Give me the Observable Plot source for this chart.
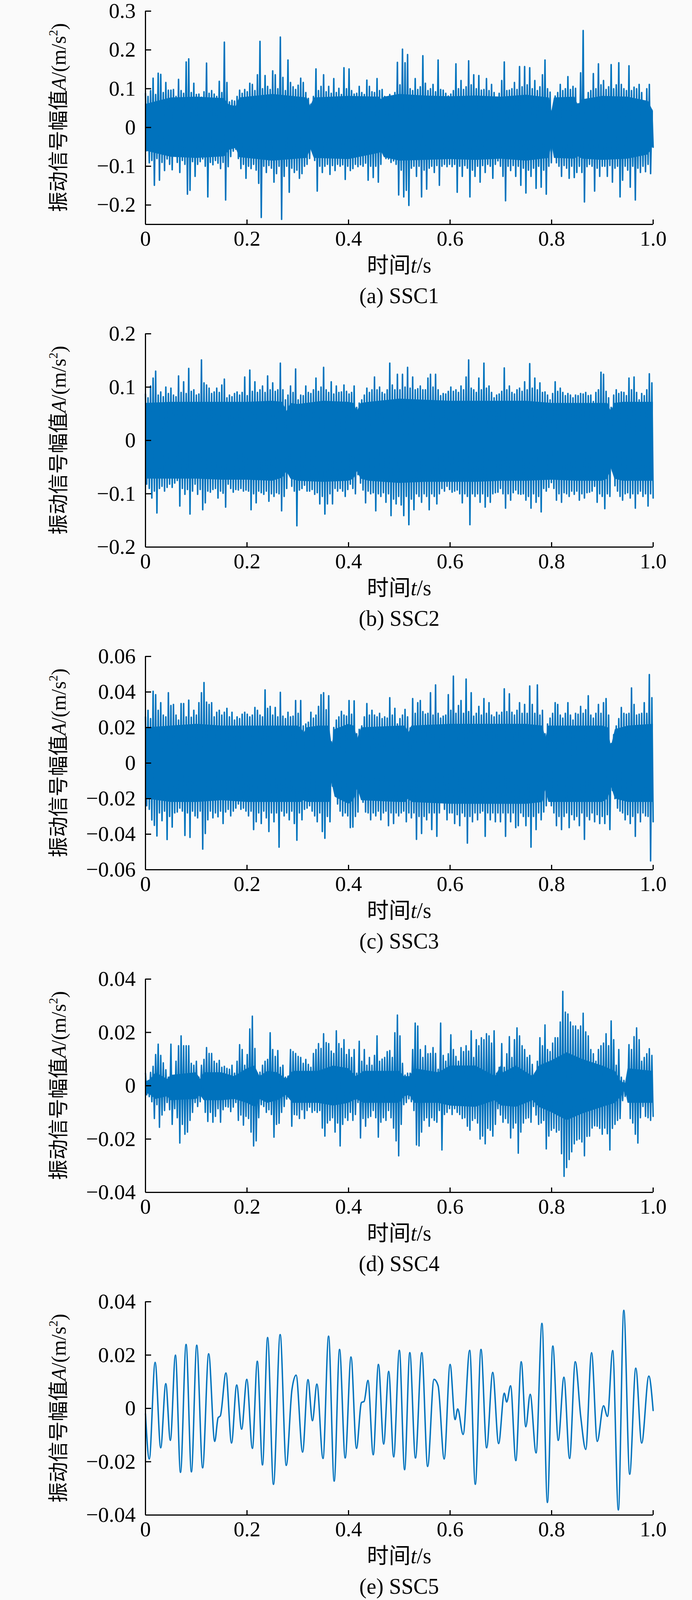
<!DOCTYPE html>
<html>
<head>
<meta charset="utf-8">
<script src="https://cdn.jsdelivr.net/npm/d3@7"></script>
<script src="https://cdn.jsdelivr.net/npm/@observablehq/plot@0.6"></script>
<style>
  html, body { margin: 0; padding: 0; background: #fafafa; }
  #root { width: 1772px; }
  #root svg { display: block; }
</style>
</head>
<body>
<div id="root"></div>
<script>
// ---------- shared axis data ----------
const xTicks = [0, 0.2, 0.4, 0.6, 0.8, 1.0];
const xTickLabels = ["0", "0.2", "0.4", "0.6", "0.8", "1.0"];
const captions = ["(a) SSC1", "(b) SSC2", "(c) SSC3", "(d) SSC4", "(e) SSC5"];

const ssc1Domain = [-0.25, 0.3];
const ssc1Ticks = [-0.2, -0.1, 0, 0.1, 0.2, 0.3];
const ssc1TickLabels = ["−0.2", "−0.1", "0", "0.1", "0.2", "0.3"];
const ssc2Domain = [-0.2, 0.2];
const ssc2Ticks = [-0.2, -0.1, 0, 0.1, 0.2];
const ssc2TickLabels = ["−0.2", "−0.1", "0", "0.1", "0.2"];
const ssc3Domain = [-0.06, 0.06];
const ssc3Ticks = [-0.06, -0.04, -0.02, 0, 0.02, 0.04, 0.06];
const ssc3TickLabels = ["−0.06", "−0.04", "−0.02", "0", "0.02", "0.04", "0.06"];
const ssc4Domain = [-0.04, 0.04];
const ssc4Ticks = [-0.04, -0.02, 0, 0.02, 0.04];
const ssc4TickLabels = ["−0.04", "−0.02", "0", "0.02", "0.04"];
const ssc5Domain = [-0.04, 0.04];
const ssc5Ticks = [-0.04, -0.02, 0, 0.02, 0.04];
const ssc5TickLabels = ["−0.04", "−0.02", "0", "0.02", "0.04"];

// ---------- signal swings (unit 10^-3 m/s^2): successive upper / lower extremes over 0..1 s ----------
const ssc1UpperMilli = [
  88, 80, 95, 127, 85, 140, 137, 90, 116, 96,
  96, 98, 80, 124, 95, 88, 169, 177, 90, 114,
  85, 86, 78, 92, 166, 88, 95, 86, 80, 119,
  90, 220, 116, 66, 70, 68, 80, 96, 88, 98,
  92, 114, 111, 95, 136, 222, 100, 134, 106, 98,
  146, 136, 100, 233, 129, 95, 174, 116, 105, 98,
  109, 127, 116, 90, 75, 60, 80, 151, 95, 106,
  136, 92, 106, 88, 126, 90, 101, 85, 154, 100,
  151, 95, 86, 88, 106, 90, 85, 122, 106, 92,
  90, 126, 95, 98, 80, 76, 85, 81, 90, 168,
  110, 202, 167, 188, 100, 95, 126, 98, 105, 185,
  114, 95, 100, 111, 92, 174, 98, 96, 88, 81,
  86, 95, 164, 100, 121, 98, 105, 172, 110, 136,
  100, 134, 96, 98, 126, 95, 111, 90, 76, 88,
  121, 169, 95, 96, 100, 116, 98, 157, 105, 157,
  110, 154, 100, 121, 95, 105, 136, 174, 100, 91,
  45, 81, 90, 111, 95, 100, 131, 98, 106, 101,
  61, 141, 250, 66, 90, 95, 139, 100, 164, 110,
  121, 98, 105, 162, 100, 110, 167, 111, 100, 95,
  159, 95, 104, 100, 111, 90, 66, 100, 111, 45
];
const ssc1LowerMilli = [
  -60, -91, -85, -149, -80, -136, -90, -111, -81, -95,
  -109, -71, -90, -116, -85, -95, -172, -162, -88, -126,
  -95, -88, -81, -100, -179, -90, -96, -85, -92, -106,
  -90, -187, -101, -75, -61, -56, -80, -106, -95, -131,
  -100, -106, -95, -110, -144, -232, -100, -116, -98, -105,
  -141, -119, -100, -237, -126, -100, -167, -105, -116, -110,
  -131, -119, -100, -95, -80, -58, -85, -164, -100, -116,
  -100, -95, -121, -98, -111, -95, -100, -96, -134, -100,
  -111, -106, -95, -101, -96, -100, -92, -136, -100, -129,
  -100, -141, -95, -66, -80, -81, -90, -86, -95, -174,
  -110, -179, -162, -201, -105, -100, -126, -100, -179, -110,
  -159, -105, -100, -116, -98, -149, -100, -95, -101, -95,
  -101, -95, -167, -100, -126, -98, -105, -179, -110, -126,
  -100, -141, -98, -116, -95, -100, -131, -95, -86, -100,
  -126, -189, -100, -111, -98, -126, -100, -149, -105, -169,
  -110, -126, -105, -157, -100, -154, -110, -172, -100, -91,
  -45, -91, -100, -126, -98, -105, -131, -100, -129, -116,
  -100, -116, -192, -101, -95, -100, -164, -105, -126, -100,
  -100, -126, -98, -141, -105, -100, -179, -136, -100, -110,
  -154, -100, -187, -105, -116, -100, -114, -95, -119, -51
];
// dense core band of SSC1 (time s, unit 10^-3 m/s^2)
const ssc1CoreTime = [0, 0.05, 0.10, 0.155, 0.165, 0.178, 0.185, 0.25, 0.318, 0.325, 0.332, 0.40, 0.46, 0.465, 0.47, 0.50, 0.55, 0.60, 0.65, 0.70, 0.75, 0.795, 0.80, 0.805, 0.845, 0.852, 0.86, 0.90, 0.95, 0.99, 1.0];
const ssc1CoreUpper = [60, 77, 79, 75, 58, 55, 77, 86, 77, 55, 77, 81, 79, 72, 79, 86, 82, 80, 82, 79, 84, 77, 42, 77, 79, 58, 72, 81, 79, 68, 42];
const ssc1CoreLower = [-60, -76, -79, -75, -58, -53, -77, -86, -79, -55, -79, -82, -66, -63, -77, -86, -84, -82, -84, -81, -86, -79, -42, -79, -81, -75, -81, -84, -81, -70, -48];

const ssc2UpperMilli = [
  87, 80, 102, 117, 130, 85, 91, 82, 100, 88,
  98, 85, 82, 121, 90, 110, 88, 135, 92, 95,
  85, 87, 151, 108, 104, 98, 88, 91, 98, 90,
  104, 115, 80, 85, 82, 88, 91, 85, 90, 119,
  84, 132, 92, 110, 90, 95, 102, 90, 121, 95,
  108, 92, 95, 145, 95, 76, 85, 102, 90, 134,
  76, 85, 84, 102, 90, 88, 95, 117, 92, 100,
  137, 95, 90, 110, 87, 102, 90, 91, 104, 92,
  87, 90, 102, 62, 70, 76, 85, 98, 90, 95,
  119, 95, 100, 90, 87, 95, 145, 104, 95, 124,
  95, 124, 100, 137, 98, 119, 95, 97, 102, 95,
  95, 117, 124, 100, 124, 95, 84, 88, 87, 92,
  100, 92, 95, 90, 102, 95, 119, 151, 98, 95,
  90, 117, 95, 145, 98, 102, 90, 80, 85, 87,
  92, 136, 95, 102, 90, 87, 95, 98, 92, 110,
  95, 144, 98, 117, 95, 108, 90, 91, 85, 76,
  88, 110, 92, 98, 90, 84, 88, 85, 80, 85,
  84, 88, 87, 90, 84, 85, 73, 90, 95, 128,
  124, 92, 80, 62, 85, 95, 88, 91, 90, 84,
  117, 95, 119, 90, 76, 88, 84, 95, 125, 108
];
const ssc2LowerMilli = [
  -82, -90, -108, -95, -136, -90, -86, -95, -88, -82,
  -88, -80, -75, -123, -90, -101, -92, -138, -95, -82,
  -101, -92, -130, -117, -95, -97, -92, -90, -108, -95,
  -99, -125, -82, -90, -97, -92, -93, -90, -95, -93,
  -95, -130, -100, -117, -95, -98, -101, -95, -114, -100,
  -105, -98, -100, -132, -105, -90, -64, -86, -95, -160,
  -93, -90, -84, -95, -95, -92, -101, -98, -119, -105,
  -138, -119, -100, -119, -90, -95, -90, -95, -105, -92,
  -82, -90, -100, -64, -80, -93, -117, -95, -100, -98,
  -132, -100, -105, -98, -116, -100, -141, -110, -119, -105,
  -121, -141, -105, -158, -110, -130, -100, -105, -116, -100,
  -105, -130, -100, -105, -119, -100, -90, -95, -86, -92,
  -97, -95, -93, -100, -117, -100, -105, -158, -100, -105,
  -100, -116, -100, -125, -105, -116, -100, -98, -97, -90,
  -100, -127, -100, -112, -98, -93, -100, -101, -100, -112,
  -105, -127, -100, -116, -105, -134, -90, -95, -88, -79,
  -90, -112, -100, -116, -98, -100, -105, -95, -101, -95,
  -112, -100, -108, -98, -97, -95, -86, -116, -100, -105,
  -128, -100, -105, -57, -85, -95, -105, -112, -100, -98,
  -108, -100, -127, -100, -95, -105, -100, -123, -100, -108
];
const ssc2CoreTime = [0, 0.05, 0.10, 0.15, 0.20, 0.25, 0.27, 0.278, 0.286, 0.30, 0.35, 0.40, 0.41, 0.417, 0.424, 0.44, 0.50, 0.55, 0.60, 0.65, 0.70, 0.75, 0.80, 0.85, 0.90, 0.91, 0.917, 0.924, 0.94, 1.0];
const ssc2CoreUpper = [70, 72, 72, 72, 72, 74, 72, 55, 70, 68, 74, 72, 70, 55, 70, 72, 78, 76, 74, 74, 74, 74, 70, 70, 70, 70, 55, 70, 72, 72];
const ssc2CoreLower = [-72, -72, -72, -74, -74, -76, -70, -58, -72, -76, -78, -76, -72, -58, -72, -76, -80, -78, -78, -78, -76, -76, -74, -76, -76, -72, -52, -72, -76, -76];

const ssc3UpperMilli = [
  26, 29.7, 25, 40.4, 38.5, 29.7, 34, 27, 26, 39.6,
  32.4, 33, 27, 24.2, 33.5, 33.5, 26, 35.4, 25.8, 29.7,
  27, 34, 39.6, 45.3, 34.3, 33, 34, 26, 28.6, 29.7,
  27, 28.6, 30.8, 26, 28.6, 24.2, 26, 25, 27.5, 28.6,
  27.5, 26, 27, 31.3, 29.7, 27, 26, 41.2, 30.8, 31.9,
  27, 31.3, 26, 39.8, 26.4, 25, 28.6, 26, 26.4, 35.2,
  28, 35.2, 20.9, 22, 23, 28.6, 25.3, 27, 31.9, 38.5,
  39.6, 30, 37.9, 12, 20, 24.2, 26, 29.1, 27, 26.4,
  35.2, 27.5, 35, 16.5, 19, 20.9, 26, 33.5, 27, 29.7,
  27, 26, 28, 25, 26, 25.3, 36.8, 27, 30.8, 22,
  25, 27, 30.2, 26, 19.8, 36.3, 28, 34, 35.2, 29,
  27.5, 28, 39.6, 27, 44, 28, 25.3, 26.4, 27, 38.5,
  29.7, 48.9, 28, 32.4, 35.2, 28, 47.3, 29, 39.6, 26.4,
  28, 31.9, 27, 36.3, 28, 34, 27, 26, 28.6, 27,
  28.6, 41.8, 29, 39, 28.6, 27, 29.7, 34, 28, 33,
  28, 43.4, 33, 28, 44, 27, 29.7, 16.5, 22, 25.3,
  28, 34, 33, 27, 25.3, 28, 34, 27, 24.2, 28,
  27.5, 31.9, 28, 30, 37.9, 27, 25.3, 28, 33, 28,
  34, 36.3, 27, 11, 16, 20.9, 25, 31.3, 28, 27.5,
  28, 42.3, 33, 27, 27.5, 28, 34, 28, 49.8, 36.8
];
const ssc3LowerMilli = [
  -24, -26, -32, -35, -41, -28, -32.4, -27, -43, -30,
  -36, -28, -27.5, -25.3, -27, -40.7, -28, -41.8, -27, -29.7,
  -30.8, -27, -48.4, -39.6, -31.9, -27, -30.8, -28, -30.2, -27,
  -34, -27.5, -26, -29.7, -27, -25.3, -23, -26, -25.3, -27,
  -29.7, -27, -37.4, -33, -28, -34, -27, -30.8, -38.5, -28,
  -33, -28, -47.3, -27, -29.7, -28, -31.9, -27, -34, -43.4,
  -28, -31.9, -26, -25.3, -24, -27, -29.7, -33, -28, -38.5,
  -42.3, -30, -33, -13, -18, -23, -27, -29.7, -28, -29.7,
  -36.3, -36, -30, -27.5, -16.5, -22, -27.5, -28, -31.9, -28,
  -29.7, -27, -31.9, -28, -27, -35.2, -28, -34, -28, -29.7,
  -28, -27, -33, -28, -30.8, -28, -42.9, -30, -39.6, -30,
  -31.9, -28, -37.4, -28, -41.2, -28, -20.9, -26, -31.9, -28,
  -28, -34, -29, -35.2, -28, -30, -45, -30, -33, -28,
  -31.9, -28, -27, -41.2, -28, -31.9, -28, -33, -28, -33,
  -28, -41.2, -28, -33, -28, -36.3, -35.2, -28, -30, -35.2,
  -30, -47.3, -30, -37.4, -28, -31.9, -27.5, -24, -17.6, -24,
  -28, -35.2, -30, -37.4, -30, -28, -36.3, -29, -31.9, -30,
  -35.2, -28, -42.9, -30, -31.9, -28, -33, -29, -34, -30,
  -34, -29, -37.4, -15.4, -20, -25.3, -27, -28, -31.9, -29,
  -34, -30, -41.2, -28, -33, -28, -29.7, -30, -55, -33
];
const ssc3CoreTime = [0, 0.05, 0.10, 0.15, 0.20, 0.25, 0.30, 0.306, 0.312, 0.318, 0.34, 0.362, 0.367, 0.373, 0.40, 0.41, 0.4177, 0.425, 0.50, 0.512, 0.518, 0.524, 0.60, 0.65, 0.70, 0.75, 0.782, 0.788, 0.794, 0.85, 0.90, 0.911, 0.917, 0.925, 0.95, 1.0];
const ssc3CoreUpper = [20, 21, 22, 21, 21, 21, 21, 20, 17, 20, 21, 21, 10, 19, 22, 21, 14, 20, 21, 21, 17, 21, 22, 22, 22, 22, 21, 14, 21, 21, 21, 20, 9, 19, 21, 22];
const ssc3CoreLower = [-20, -22, -22, -21, -22, -22, -22, -22, -21, -22, -22, -22, -11, -19, -23, -21, -14, -21, -22, -22, -20, -22, -23, -23, -23, -23, -22, -15, -22, -22, -22, -20, -13, -20, -22, -22];

const ssc4UpperMilli = [
  4.7, 1, 5, 7.3, 11.7, 15.6, 11.4, 8.6, 6, 3.2,
  15.6, 3.2, 9.2, 15, 18.7, 15, 15, 15, 8.4, 7.7,
  9.2, 3.2, 7.7, 9.9, 14.3, 12.1, 12.1, 9.2, 8.4, 9.5,
  6.9, 7.3, 6.5, 6.2, 7.7, 4.7, 9.2, 15.4, 13.6, 7.7,
  11.7, 21.3, 26.1, 14, 4.7, 5.1, 7.7, 9.2, 9.9, 19.9,
  13.6, 11, 13.2, 6.9, 7.7, 3.2, 3.6, 13.6, 12.8, 12.1,
  11, 10.6, 8.4, 9.9, 8, 6.9, 12.1, 13.6, 15.8, 14,
  19.5, 16.2, 15.8, 13, 12.1, 20.6, 15.8, 14, 17.3, 11.7,
  13.6, 10.6, 13.6, 4.7, 16.7, 9.2, 13.6, 7.7, 10.6, 7.7,
  11.4, 18.7, 9.2, 10, 10.6, 12.8, 13.2, 10.6, 19.9, 26.5,
  18.7, 8.4, 4, 4.7, 4.7, 13.6, 23.5, 22.4, 13.6, 10.6,
  15, 12, 12.1, 14.3, 12.1, 6.2, 23.5, 11.4, 9.2, 12,
  19.1, 13.6, 11, 9.2, 14.3, 12.8, 15, 13, 20.6, 10.6,
  17.3, 15, 18, 17.3, 19.5, 18.7, 16, 20.6, 4.7, 6.9,
  15.8, 6.9, 12, 18.4, 10.6, 17.3, 21.7, 18.7, 15, 13.6,
  10.6, 11.4, 8, 4.7, 9.2, 18, 15, 22.8, 13.6, 12.8,
  16, 18, 18, 23.9, 35.4, 27.6, 26.9, 23.9, 22.4, 22.4,
  21, 22.4, 27.2, 20.2, 18.7, 13.6, 12, 9.2, 13.6, 15,
  16, 19.5, 15, 24.3, 17.3, 7.7, 13.6, 3.2, 2, 1,
  15.4, 13.6, 18.4, 21.7, 17.3, 9.2, 10.6, 12, 13.9, 11.4
];
const ssc4LowerMilli = [
  -3.4, -4.1, -6, -12.3, -7.1, -15.6, -11, -9.3, -6.3, -9,
  -14.5, -8.6, -12, -21.5, -14.5, -18.2, -17.4, -13, -10, -6.3,
  -7.8, -6, -4.1, -10, -13.4, -10, -13.7, -11.5, -8.6, -13.7,
  -9, -7.8, -8, -9.7, -8, -6.3, -13, -11, -14.8, -11.5,
  -12.3, -17.4, -22.6, -20.7, -12, -7.1, -7.8, -10, -9, -10.8,
  -19.3, -14.5, -14.1, -10, -7.8, -5, -4.1, -15.2, -10.8, -11,
  -12.3, -9, -12.3, -9.3, -8, -10, -9.3, -10, -9.3, -15.9,
  -18.9, -14, -13, -12, -17.4, -14, -22.6, -14.5, -12, -13,
  -10, -13, -10.8, -6.3, -19.6, -12.3, -15.2, -12, -11.5, -9.3,
  -12, -19.3, -13.7, -12, -13, -9.3, -12, -15.9, -20.7, -26.3,
  -14.5, -7.1, -6.3, -4.9, -6, -9.3, -22.2, -22.6, -17.4, -13,
  -12, -15.2, -12, -13, -13.7, -9.3, -24.1, -10.8, -10, -8.6,
  -10.8, -8.6, -10, -10.8, -12.3, -12, -15.2, -16.7, -13, -12.3,
  -14, -20, -18.9, -21.8, -16, -16.7, -18.9, -14.5, -8.6, -11,
  -13.7, -12.3, -14, -19.6, -15.9, -14, -25.3, -17.4, -14, -12.3,
  -12, -13.7, -7.8, -11, -14.5, -14, -13, -23.7, -18.9, -16.7,
  -16, -17.4, -16.7, -25.5, -34, -30.7, -27.7, -24.8, -21.8, -20.4,
  -20, -21.1, -26.3, -19, -18.9, -15.9, -15, -15.2, -16, -18.2,
  -15.9, -18, -24.1, -16, -14.5, -13, -12.3, -5.6, -4, -2.7,
  -12.3, -14, -18.2, -21.5, -12, -7.8, -11.5, -12, -13, -11.5
];
const ssc4CoreTime = [0, 0.01, 0.02, 0.043, 0.05, 0.10, 0.108, 0.115, 0.15, 0.175, 0.20, 0.215, 0.225, 0.24, 0.26, 0.277, 0.29, 0.34, 0.37, 0.40, 0.415, 0.43, 0.50, 0.51, 0.52, 0.53, 0.577, 0.60, 0.65, 0.689, 0.70, 0.705, 0.73, 0.763, 0.775, 0.80, 0.83, 0.86, 0.90, 0.925, 0.937, 0.945, 0.95, 1.0];
const ssc4CoreUpper = [1.5, 2.5, 5, 2.5, 4, 5, 2.5, 5, 5, 3.5, 6.5, 7.5, 3.5, 5.5, 5, 2.5, 5.5, 5.5, 7.5, 6.5, 3.5, 5.5, 5.5, 3.5, 3.5, 6.5, 5, 7.5, 7.5, 3.5, 7.5, 5, 7.5, 3.5, 7.5, 9.5, 12.5, 10, 7.5, 5.5, 1.5, 1, 6.5, 5.5];
const ssc4CoreLower = [-2.5, -3.5, -5, -4, -5.5, -5, -3.5, -5.5, -5.5, -5, -6.5, -8, -5, -6.5, -5.5, -3.5, -6.5, -6.5, -7.5, -6.5, -5, -6.5, -6.5, -4, -3.5, -6.5, -6.5, -7.5, -8, -5.5, -7.5, -7.5, -8, -5.5, -8, -10, -13, -10.5, -8, -6.5, -4, -1.5, -6.5, -6.5];

// SSC5: smooth signal, turning points (time s, value m/s^2)
const ssc5Time = [
  0, 0.0075, 0.019, 0.030, 0.040, 0.049, 0.059, 0.069, 0.080, 0.0905,
  0.101, 0.1126, 0.1245, 0.1364, 0.1431, 0.1475, 0.1585, 0.1695, 0.1797, 0.1894,
  0.1996, 0.2106, 0.2203, 0.2305, 0.2406, 0.2521, 0.2653, 0.2773, 0.2885, 0.2967,
  0.3095, 0.3201, 0.3289, 0.3377, 0.3497, 0.3607, 0.3717, 0.3823, 0.3934, 0.4049,
  0.4156, 0.4255, 0.4306, 0.4383, 0.4486, 0.4589, 0.4692, 0.4791, 0.4889, 0.5001,
  0.5104, 0.5207, 0.5318, 0.5443, 0.5558, 0.5683, 0.5764, 0.5884, 0.6000, 0.6099,
  0.6150, 0.6257, 0.6386, 0.6497, 0.6609, 0.6720, 0.6840, 0.6956, 0.7068, 0.7115,
  0.7192, 0.7295, 0.7402, 0.7492, 0.7578, 0.7694, 0.7810, 0.7917, 0.8024, 0.8131,
  0.8243, 0.8354, 0.8466, 0.8573, 0.8672, 0.8787, 0.8899, 0.9023, 0.9100, 0.9203,
  0.9315, 0.9422, 0.9538, 0.9658, 0.9774, 0.9915, 1.0
];
const ssc5Value = [
  -0.002, -0.019, 0.0173, -0.0148, 0.0093, -0.0120, 0.0200, -0.0240, 0.0240, -0.0238,
  0.0237, -0.0223, 0.0205, -0.0124, -0.0035, -0.0028, 0.0133, -0.0130, 0.0088, -0.0078,
  0.0109, -0.0150, 0.0177, -0.0212, 0.0266, -0.0285, 0.0277, -0.0214, 0.0070, 0.0125,
  -0.0164, 0.0108, -0.0046, 0.0091, -0.0188, 0.0271, -0.0273, 0.0221, -0.0186, 0.0193,
  -0.0150, 0.0022, 0.0026, 0.0105, -0.0174, 0.0165, -0.0134, 0.0139, -0.0182, 0.0218,
  -0.0230, 0.0209, -0.0186, 0.0209, -0.0218, 0.0109, 0.0085, -0.0190, 0.0165, -0.0042,
  -0.0002, -0.0098, 0.0218, -0.0285, 0.0221, -0.0148, 0.0135, -0.0132, 0.0057, 0.0024,
  0.0085, -0.0196, 0.0175, -0.0069, 0.0053, -0.0167, 0.0319, -0.0353, 0.0234, -0.0120,
  0.0117, -0.0188, 0.0175, -0.0030, -0.0154, 0.0209, -0.0124, 0.0010, -0.0030, 0.0217,
  -0.0381, 0.0368, -0.0247, 0.0151, -0.0130, 0.0121, -0.0008
];

// ---------- helpers ----------
function swings(upperMilli, lowerMilli) {
  const n = upperMilli.length, out = [];
  for (let i = 0; i < n; i++) {
    out.push({t: (2 * i) / (2 * n - 1), a: upperMilli[i] / 1000});
    out.push({t: (2 * i + 1) / (2 * n - 1), a: lowerMilli[i] / 1000});
  }
  return out;
}
function core(times, upper, lower) {
  return times.map((t, i) => ({t, hi: upper[i] / 1000, lo: lower[i] / 1000}));
}
const ssc5Data = ssc5Time.map((t, i) => ({t, a: ssc5Value[i]}));

const panels = [
  {domain: ssc1Domain, ticks: ssc1Ticks, labels: ssc1TickLabels, data: swings(ssc1UpperMilli, ssc1LowerMilli), core: core(ssc1CoreTime, ssc1CoreUpper, ssc1CoreLower), curve: "linear", sw: 3.8},
  {domain: ssc2Domain, ticks: ssc2Ticks, labels: ssc2TickLabels, data: swings(ssc2UpperMilli, ssc2LowerMilli), core: core(ssc2CoreTime, ssc2CoreUpper, ssc2CoreLower), curve: "linear", sw: 3.8},
  {domain: ssc3Domain, ticks: ssc3Ticks, labels: ssc3TickLabels, data: swings(ssc3UpperMilli, ssc3LowerMilli), core: core(ssc3CoreTime, ssc3CoreUpper, ssc3CoreLower), curve: "linear", sw: 3.8},
  {domain: ssc4Domain, ticks: ssc4Ticks, labels: ssc4TickLabels, data: swings(ssc4UpperMilli, ssc4LowerMilli), core: core(ssc4CoreTime, ssc4CoreUpper, ssc4CoreLower), curve: "linear", sw: 3.6},
  {domain: ssc5Domain, ticks: ssc5Ticks, labels: ssc5TickLabels, data: ssc5Data, core: null, curve: "monotone-x", sw: 3.6}
];

// ---------- layout (window is 1772 x 4096: vertical layout fitted to it) ----------
const W = 1772, ML = 372, MR = 100, MT = 28, PH = 546, PW = W - ML - MR;
const blockHeights = [826, 826, 826, 826, 792];
const FONT = "'Liberation Serif', 'Times New Roman', 'Noto Sans CJK SC', serif";
const BLUE = "#0072bd";
const TICK_FS = 55, LABEL_FS = 56, YLABEL_FS = 52;

const root = document.getElementById("root");
panels.forEach((p, k) => {
  const H = blockHeights[k];
  const marks = [];
  if (p.core) marks.push(Plot.areaY(p.core, {x: "t", y1: "lo", y2: "hi", fill: BLUE, curve: "linear"}));
  marks.push(
    Plot.line(p.data, {x: "t", y: "a", stroke: BLUE, strokeWidth: p.sw, curve: p.curve, strokeLinejoin: "round"}),
    Plot.ruleX([0], {stroke: "#000", strokeWidth: 3}),
    Plot.ruleY([p.domain[0]], {stroke: "#000", strokeWidth: 3}),
    Plot.tickY(p.ticks, {y: d => d, stroke: "#000", strokeWidth: 3, insetRight: PW - 15}),
    Plot.tickX(xTicks, {x: d => d, stroke: "#000", strokeWidth: 3, insetTop: PH - 12}),
    Plot.text(p.ticks, {y: d => d, text: d => p.labels[p.ticks.indexOf(d)], frameAnchor: "left", textAnchor: "end", dx: -25, fontSize: TICK_FS, fill: "#000"}),
    Plot.text(xTicks, {x: d => d, text: d => xTickLabels[xTicks.indexOf(d)], frameAnchor: "bottom", lineAnchor: "bottom", dy: 54, fontSize: TICK_FS, fill: "#000"})
  );
  const svg = Plot.plot({
    width: W,
    height: H,
    marginLeft: ML,
    marginRight: MR,
    marginTop: MT,
    marginBottom: H - MT - PH,
    style: {background: "transparent", fontFamily: FONT, color: "#000", overflow: "visible"},
    x: {domain: [0, 1], axis: null, label: null},
    y: {domain: p.domain, axis: null, label: null},
    marks
  });

  const s = d3.select(svg);
  const axisBottom = MT + PH;
  const cx = ML + PW / 2;

  const xl = s.append("text")
    .attr("x", cx).attr("y", axisBottom + 124)
    .attr("text-anchor", "middle")
    .attr("font-family", FONT).attr("font-size", LABEL_FS).attr("fill", "#000");
  xl.append("tspan").text("时间");
  xl.append("tspan").attr("font-style", "italic").text("t");
  xl.append("tspan").text("/s");

  s.append("text")
    .attr("x", cx).attr("y", axisBottom + 202)
    .attr("text-anchor", "middle")
    .attr("font-family", FONT).attr("font-size", LABEL_FS).attr("fill", "#000")
    .text(captions[k]);

  const yl = s.append("text")
    .attr("transform", `translate(150,${MT + PH / 2}) rotate(-90)`)
    .attr("dy", "0.35em")
    .attr("text-anchor", "middle")
    .attr("font-family", FONT).attr("font-size", YLABEL_FS).attr("fill", "#000");
  yl.append("tspan").text("振动信号幅值");
  yl.append("tspan").attr("font-style", "italic").text("A");
  yl.append("tspan").text("/(m/s");
  yl.append("tspan").attr("font-size", 31).attr("dy", -21).text("2");
  yl.append("tspan").attr("dy", 21).text(")");

  root.appendChild(svg);
});
</script>
</body>
</html>
